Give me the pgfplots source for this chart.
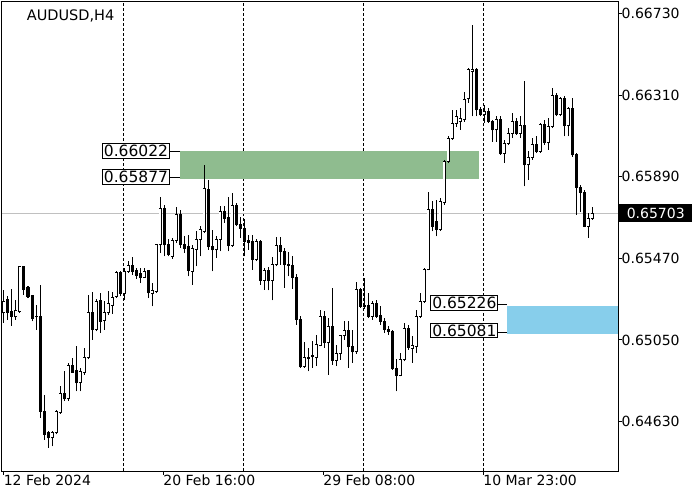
\documentclass[border=0pt]{standalone}
\usepackage{pgfplots}
\pgfplotsset{compat=1.18}
\usepackage{pgfplotstable}
\usepackage{fontspec}
\setmainfont{DejaVu Sans}

\definecolor{zonegreen}{RGB}{143,188,143}
\definecolor{zoneblue}{RGB}{135,206,235}
\definecolor{pricegray}{RGB}{192,192,192}

\pgfplotstableread{
i o h l c
0 0.65189 0.65309 0.65138 0.65249
1 0.65257 0.65274 0.65155 0.65192
2 0.65197 0.65312 0.65124 0.65172
3 0.65169 0.65257 0.65155 0.65201
4 0.65197 0.65432 0.65189 0.65429
5 0.65429 0.65432 0.65283 0.65312
6 0.65318 0.65326 0.65266 0.65274
7 0.65280 0.65283 0.65146 0.65163
8 0.65172 0.65232 0.65103 0.65169
9 0.65172 0.65335 0.64649 0.64683
10 0.64683 0.64769 0.64538 0.64564
11 0.64572 0.64581 0.64495 0.64547
12 0.64547 0.64581 0.64503 0.64572
13 0.64572 0.64692 0.64564 0.64683
14 0.64675 0.64815 0.64671 0.64774
15 0.64774 0.64889 0.64735 0.64747
16 0.64747 0.64932 0.64735 0.64918
17 0.64918 0.64958 0.64881 0.64884
18 0.64894 0.65021 0.64786 0.64829
19 0.64829 0.64906 0.64786 0.64886
20 0.64881 0.65009 0.64872 0.64958
21 0.64958 0.65283 0.64950 0.65189
22 0.65194 0.65295 0.65052 0.65103
23 0.65103 0.65261 0.65094 0.65249
24 0.65252 0.65292 0.65086 0.65146
25 0.65151 0.65249 0.65103 0.65192
26 0.65189 0.65300 0.65180 0.65237
27 0.65230 0.65299 0.65185 0.65268
28 0.65274 0.65403 0.65266 0.65398
29 0.65398 0.65403 0.65274 0.65290
30 0.65290 0.65420 0.65257 0.65403
31 0.65403 0.65454 0.65395 0.65432
32 0.65432 0.65477 0.65386 0.65403
33 0.65408 0.65420 0.65364 0.65381
34 0.65390 0.65420 0.65343 0.65372
35 0.65372 0.65420 0.65369 0.65403
36 0.65408 0.65412 0.65266 0.65292
37 0.65288 0.65343 0.65223 0.65304
38 0.65300 0.65545 0.65292 0.65540
39 0.65540 0.65788 0.65497 0.65729
40 0.65729 0.65746 0.65480 0.65540
41 0.65540 0.65569 0.65480 0.65489
42 0.65480 0.65575 0.65467 0.65562
43 0.65562 0.65734 0.65549 0.65694
44 0.65694 0.65720 0.65523 0.65540
45 0.65540 0.65583 0.65497 0.65523
46 0.65531 0.65592 0.65377 0.65408
47 0.65403 0.65540 0.65335 0.65523
48 0.65518 0.65609 0.65429 0.65566
49 0.65566 0.65638 0.65480 0.65617
50 0.65609 0.65951 0.65600 0.65832
51 0.65826 0.65874 0.65514 0.65531
52 0.65531 0.65617 0.65403 0.65514
53 0.65514 0.65583 0.65472 0.65569
54 0.65569 0.65737 0.65506 0.65711
55 0.65711 0.65737 0.65652 0.65677
56 0.65680 0.65788 0.65506 0.65535
57 0.65535 0.65806 0.65531 0.65741
58 0.65741 0.65754 0.65634 0.65643
59 0.65643 0.65682 0.65575 0.65626
60 0.65626 0.65672 0.65480 0.65557
61 0.65562 0.65592 0.65514 0.65552
62 0.65557 0.65592 0.65412 0.65463
63 0.65463 0.65569 0.65454 0.65557
64 0.65557 0.65566 0.65335 0.65357
65 0.65357 0.65420 0.65309 0.65408
66 0.65408 0.65426 0.65305 0.65357
67 0.65357 0.65477 0.65254 0.65437
68 0.65437 0.65580 0.65429 0.65535
69 0.65535 0.65580 0.65437 0.65506
70 0.65506 0.65523 0.65318 0.65437
71 0.65437 0.65501 0.65377 0.65432
72 0.65432 0.65484 0.65312 0.65374
73 0.65374 0.65391 0.65129 0.65158
74 0.65158 0.65172 0.64905 0.64912
75 0.64912 0.65038 0.64906 0.64958
76 0.64961 0.65009 0.64889 0.64954
77 0.64970 0.65043 0.64906 0.64963
78 0.64958 0.65078 0.64915 0.65026
79 0.65021 0.65206 0.65017 0.65172
80 0.65169 0.65197 0.65009 0.65035
81 0.65035 0.65163 0.64872 0.65120
82 0.65120 0.65318 0.64923 0.64945
83 0.64945 0.65026 0.64915 0.64980
84 0.64980 0.65078 0.64949 0.65072
85 0.65072 0.65146 0.65052 0.65098
86 0.65098 0.65146 0.64906 0.65014
87 0.65014 0.65103 0.64932 0.64989
88 0.64989 0.65346 0.64980 0.65309
89 0.65309 0.65318 0.65215 0.65223
90 0.65228 0.65369 0.65210 0.65220
91 0.65228 0.65292 0.65163 0.65172
92 0.65172 0.65249 0.65155 0.65237
93 0.65237 0.65254 0.65163 0.65172
94 0.65175 0.65227 0.65129 0.65146
95 0.65146 0.65163 0.65086 0.65103
96 0.65103 0.65120 0.65077 0.65093
97 0.65093 0.65103 0.64898 0.64903
98 0.64903 0.64953 0.64786 0.64867
99 0.64867 0.64983 0.64863 0.64949
100 0.64949 0.65138 0.64940 0.65107
101 0.65107 0.65129 0.65000 0.65012
102 0.65005 0.65069 0.64932 0.65020
103 0.65015 0.65206 0.64983 0.65172
104 0.65172 0.65292 0.65163 0.65249
105 0.65249 0.65420 0.65240 0.65412
106 0.65412 0.65814 0.65408 0.65720
107 0.65720 0.65763 0.65609 0.65634
108 0.65660 0.65771 0.65583 0.65620
109 0.65620 0.65780 0.65610 0.65763
110 0.65755 0.65977 0.65746 0.65968
111 0.65968 0.66097 0.65960 0.66089
112 0.66089 0.66234 0.66080 0.66166
113 0.66166 0.66234 0.66148 0.66200
114 0.66174 0.66243 0.66131 0.66191
115 0.66183 0.66328 0.66174 0.66285
116 0.66290 0.66448 0.66270 0.66440
117 0.66431 0.66671 0.66200 0.66443
118 0.66440 0.66450 0.66200 0.66234
119 0.66234 0.66248 0.66200 0.66208
120 0.66208 0.66260 0.66166 0.66225
121 0.66225 0.66243 0.66166 0.66174
122 0.66174 0.66183 0.66071 0.66131
123 0.66131 0.66200 0.66071 0.66183
124 0.66183 0.66200 0.66003 0.66011
125 0.66011 0.66080 0.65963 0.66063
126 0.66063 0.66140 0.66054 0.66114
127 0.66114 0.66217 0.66089 0.66174
128 0.66174 0.66191 0.66106 0.66114
129 0.66114 0.66200 0.66089 0.66152
130 0.66152 0.66380 0.65840 0.65951
131 0.65951 0.66020 0.65874 0.65991
132 0.65991 0.66089 0.65977 0.66054
133 0.66054 0.66097 0.66011 0.66020
134 0.66020 0.66166 0.66012 0.66157
135 0.66157 0.66183 0.66054 0.66066
136 0.66066 0.66191 0.66028 0.66148
137 0.66148 0.66346 0.66140 0.66306
138 0.66306 0.66320 0.66200 0.66208
139 0.66208 0.66302 0.66200 0.66294
140 0.66294 0.66306 0.66097 0.66152
141 0.66152 0.66248 0.66097 0.66243
142 0.66243 0.66294 0.65994 0.66003
143 0.66003 0.66011 0.65694 0.65837
144 0.65837 0.65849 0.65711 0.65809
145 0.65809 0.65823 0.65631 0.65634
146 0.65634 0.65703 0.65575 0.65677
147 0.65677 0.65734 0.65669 0.65703
}\candles

\begin{document}
\begin{tikzpicture}
\useasboundingbox (0,0) rectangle (700pt,500pt);
\begin{axis}[
  at={(2pt,29pt)}, anchor=south west,
  scale only axis, width=616pt, height=469pt,
  xmin=-0.5, xmax=153.5, ymin=0.64376, ymax=0.66789,
  axis line style={line width=1pt, black},
  tick align=outside,
  major tick length=3.5pt,
  tick style={black, line width=1pt},
  xtick pos=left, ytick pos=right, yticklabel pos=right,
  xtick={-0.1,39.8,79.8,119.8},
  xticklabels={12 Feb 2024, 20 Feb 16:00, 29 Feb 08:00, 10 Mar 23:00},
  xticklabel style={anchor=north west, inner sep=0pt, font=\fontsize{14}{16}\selectfont},
  ytick={0.64630,0.65050,0.65470,0.65890,0.66310,0.66730},
  yticklabels={0.64630,0.65050,0.65470,0.65890,0.66310,0.66730},
  yticklabel style={anchor=west, inner sep=0pt, font=\fontsize{14}{16}\selectfont},
  extra x ticks={29.9,59.8,89.75,119.9},
  extra x tick labels={},
  extra x tick style={grid=major, major tick length=0pt},
  major grid style={black, line width=0.8pt, dash pattern=on 3pt off 2pt},
]
% zones
\addplot[fill=zonegreen, draw=none] coordinates {(44,0.65877) (118.75,0.65877) (118.75,0.66022) (44,0.66022)} -- cycle;
\addplot[fill=zoneblue, draw=none] coordinates {(125.75,0.65081) (153.5,0.65081) (153.5,0.65226) (125.75,0.65226)} -- cycle;
% current price line
\addplot[pricegray, line width=1pt] coordinates {(-0.5,0.65703) (153.5,0.65703)};
% connectors
\addplot[black, line width=1pt] coordinates {(41.5,0.66020) (44,0.66020)};
\addplot[black, line width=1pt] coordinates {(41.5,0.65886) (44,0.65886)};
\addplot[black, line width=1pt] coordinates {(123.6,0.65232) (125.75,0.65232)};
\addplot[black, line width=1pt] coordinates {(123.6,0.65089) (125.75,0.65089)};
% wicks
\addplot[draw=none, mark=none,
  error bars/.cd, y dir=plus, y explicit, error mark=none,
  error bar style={draw=black, line width=1pt}]
  table[x=i, y=l, y error plus expr={\thisrow{h}-\thisrow{l}}] {\candles};
% bodies: black outline / bearish fill
\addplot[draw=none, mark=none,
  error bars/.cd, y dir=plus, y explicit, error mark=none,
  error bar style={draw=black, line width=3pt, line cap=butt}]
  table[x=i, y expr={min(\thisrow{o},\thisrow{c})-0.0000257},
        y error plus expr={abs(\thisrow{c}-\thisrow{o})+0.0000514}] {\candles};
% bodies: white interior of bullish candles
\addplot[draw=none, mark=none,
  error bars/.cd, y dir=plus, y explicit, error mark=none,
  error bar style={draw=white, line width=1.1pt, line cap=butt}]
  table[x=i, y expr={min(\thisrow{o},\thisrow{c})+0.0000257},
        y error plus expr={max(\thisrow{c}-\thisrow{o}-0.0000514,0)}] {\candles};
% level labels
\node[draw=black, fill=white, line width=1pt, anchor=east, inner xsep=1.5pt, inner ysep=1.8pt,
  text height=11.3pt, text depth=0pt, font=\fontsize{15.5}{17}\selectfont] at (axis cs:41.5,0.66022) {0.66022};
\node[draw=black, fill=white, line width=1pt, anchor=east, inner xsep=1.5pt, inner ysep=1.8pt,
  text height=11.3pt, text depth=0pt, font=\fontsize{15.5}{17}\selectfont] at (axis cs:41.5,0.65889) {0.65877};
\node[draw=black, fill=white, line width=1pt, anchor=east, inner xsep=1.5pt, inner ysep=1.8pt,
  text height=11.3pt, text depth=0pt, font=\fontsize{15.5}{17}\selectfont] at (axis cs:123.6,0.65242) {0.65226};
\node[draw=black, fill=white, line width=1pt, anchor=east, inner xsep=1.5pt, inner ysep=1.8pt,
  text height=11.3pt, text depth=0pt, font=\fontsize{15.5}{17}\selectfont] at (axis cs:123.6,0.65099) {0.65081};
\coordinate (pricept) at (axis cs:153.5,0.65703);
\end{axis}
\node[anchor=west, fill=black, text=white, inner xsep=7.5pt, inner ysep=3.75pt, outer sep=0pt,
  text height=10.2pt, text depth=0pt, font=\fontsize{14}{16}\selectfont] at ([xshift=1.3pt]pricept) {0.65703};
\node[anchor=base west, inner sep=0pt, font=\fontsize{14.5}{16}\selectfont] at (26.7pt,479.3pt) {AUDUSD,H4};
\end{tikzpicture}
\end{document}
